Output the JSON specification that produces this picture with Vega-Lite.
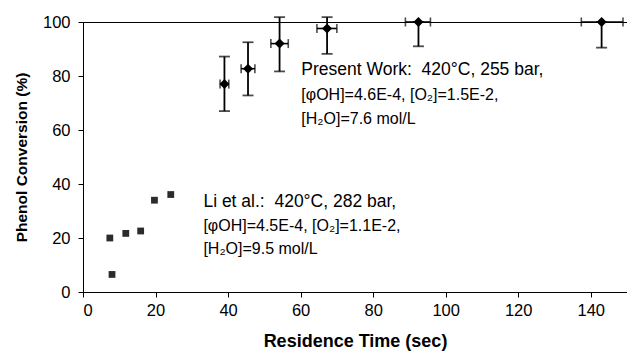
{
  "$schema": "https://vega.github.io/schema/vega-lite/v6.json",
  "width": 544,
  "height": 270,
  "autosize": "none",
  "padding": {"left": 83, "top": 22, "right": 0, "bottom": 65},
  "background": "white",
  "config": {
    "font": "Liberation Sans",
    "view": {"stroke": "black", "strokeWidth": 1},
    "axis": {
      "grid": false,
      "domainColor": "black",
      "tickColor": "black",
      "tickSize": 5,
      "labelColor": "black",
      "titleColor": "black",
      "labelFont": "Liberation Sans",
      "titleFont": "Liberation Sans",
      "labelFontSize": 16.5,
      "titleFontWeight": "bold"
    }
  },
  "datasets": {
    "present": [
      {"t": 39.0, "conv": 77.0, "tlo": 37.8, "thi": 40.2, "clo": 67.0, "chi": 87.2},
      {"t": 45.5, "conv": 82.7, "tlo": 43.6, "thi": 47.4, "clo": 72.8, "chi": 92.5},
      {"t": 54.2, "conv": 92.0, "tlo": 51.8, "thi": 56.6, "clo": 81.7, "chi": 101.8},
      {"t": 67.3, "conv": 97.6, "tlo": 64.5, "thi": 70.0, "clo": 88.2, "chi": 101.8},
      {"t": 92.5, "conv": 100.0, "tlo": 88.9, "thi": 95.8, "clo": 91.0, "chi": 100.0},
      {"t": 143.0, "conv": 100.0, "tlo": 137.4, "thi": 148.9, "clo": 90.5, "chi": 100.0}
    ],
    "li": [
      {"t": 7.4, "conv": 20.0},
      {"t": 8.0, "conv": 6.5},
      {"t": 11.8, "conv": 21.7},
      {"t": 15.9, "conv": 22.6},
      {"t": 19.7, "conv": 34.0},
      {"t": 24.2, "conv": 36.1}
    ],
    "notes": [
      {"t": 60.2, "conv": 82.3, "kind": "head", "label": "Present Work:\u00a0 420°C, 255 bar,"},
      {"t": 60.2, "conv": 73.0, "kind": "body", "label": "[φOH]=4.6E-4, [O₂]=1.5E-2,"},
      {"t": 60.2, "conv": 64.1, "kind": "body", "label": "[H₂O]=7.6 mol/L"},
      {"t": 33.2, "conv": 33.3, "kind": "head", "label": "Li et al.:\u00a0 420°C, 282 bar,"},
      {"t": 33.2, "conv": 24.3, "kind": "body", "label": "[φOH]=4.5E-4, [O₂]=1.1E-2,"},
      {"t": 33.2, "conv": 15.8, "kind": "body", "label": "[H₂O]=9.5 mol/L"}
    ]
  },
  "encoding": {
    "x": {
      "type": "quantitative",
      "scale": {"domain": [0, 150], "nice": false, "zero": false},
      "axis": {"values": [0, 20, 40, 60, 80, 100, 120, 140], "title": "Residence Time (sec)", "titleFontSize": 18, "labelPadding": 5, "titlePadding": 14}
    },
    "y": {
      "type": "quantitative",
      "scale": {"domain": [0, 100], "nice": false},
      "axis": {"values": [0, 20, 40, 60, 80, 100], "title": "Phenol Conversion (%)", "titleFontSize": 15.5, "labelPadding": 8, "titlePadding": 13}
    }
  },
  "layer": [
    {
      "data": {"name": "present"},
      "mark": {"type": "errorbar", "ticks": {"size": 11, "thickness": 1.8, "color": "black"}, "rule": {"strokeWidth": 1.8, "color": "black"}},
      "encoding": {
        "x": {"field": "t", "type": "quantitative"},
        "y": {"field": "clo", "type": "quantitative"},
        "y2": {"field": "chi"}
      }
    },
    {
      "data": {"name": "present"},
      "mark": {"type": "errorbar", "ticks": {"size": 9, "thickness": 1.6, "color": "black"}, "rule": {"strokeWidth": 1.6, "color": "black"}},
      "encoding": {
        "y": {"field": "conv", "type": "quantitative"},
        "x": {"field": "tlo", "type": "quantitative"},
        "x2": {"field": "thi"}
      }
    },
    {
      "data": {"name": "present"},
      "mark": {"type": "point", "shape": "diamond", "filled": true, "size": 100, "color": "black", "opacity": 1},
      "encoding": {
        "x": {"field": "t", "type": "quantitative"},
        "y": {"field": "conv", "type": "quantitative"}
      }
    },
    {
      "data": {"name": "li"},
      "mark": {"type": "point", "shape": "square", "filled": true, "size": 46, "color": "#2b2b2b", "opacity": 1},
      "encoding": {
        "x": {"field": "t", "type": "quantitative"},
        "y": {"field": "conv", "type": "quantitative"}
      }
    },
    {
      "data": {"name": "notes"},
      "transform": [{"filter": "datum.kind === 'head'"}],
      "mark": {"type": "text", "align": "left", "baseline": "middle", "fontSize": 17.5, "font": "Liberation Sans", "color": "black"},
      "encoding": {
        "x": {"field": "t", "type": "quantitative"},
        "y": {"field": "conv", "type": "quantitative"},
        "text": {"field": "label"}
      }
    },
    {
      "data": {"name": "notes"},
      "transform": [{"filter": "datum.kind === 'body'"}],
      "mark": {"type": "text", "align": "left", "baseline": "middle", "fontSize": 16, "font": "Liberation Sans", "color": "black"},
      "encoding": {
        "x": {"field": "t", "type": "quantitative"},
        "y": {"field": "conv", "type": "quantitative"},
        "text": {"field": "label"}
      }
    }
  ]
}
